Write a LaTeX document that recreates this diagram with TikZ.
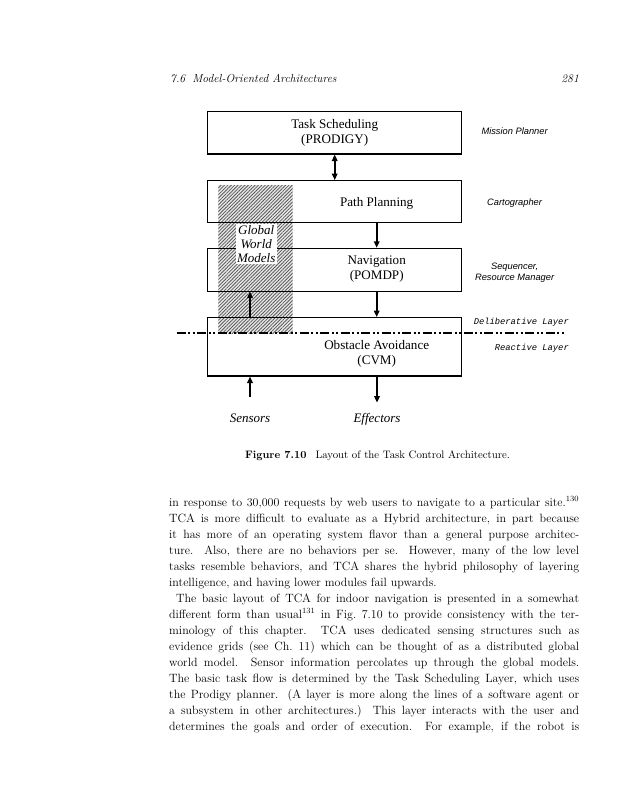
\documentclass[tikz,border=0pt]{standalone}
\usepackage{fontspec}
\newfontfamily\figserif{Liberation Serif}
\newfontfamily\figsans{Liberation Sans}
\newfontfamily\figmono{Liberation Mono}
\usetikzlibrary{arrows.meta,patterns.meta,positioning}

\begin{document}
\begin{tikzpicture}[x=1pt,y=-1pt]
   \tikzstyle{layer}=[draw,line width=1.1pt,minimum width=254pt,inner sep=0pt]
   \tikzstyle{boxtext}=[align=center,font=\figserif\fontsize{13.1}{14.5}\selectfont]
   \tikzstyle{role}=[align=center,font=\figsans\itshape\fontsize{9.3}{10.3}\selectfont]
   \tikzstyle{tier}=[anchor=base east,inner sep=0pt,font=\figmono\itshape\fontsize{8.8}{10}\selectfont]
   \tikzstyle{flow}=[line width=1.6pt,-{Triangle[length=6.5pt,width=5.5pt]}]
   \tikzstyle{io}=[anchor=base,inner sep=0pt,font=\figserif\itshape\fontsize{13}{14}\selectfont]
   \fill [white] (0,0) rectangle (620,800);
   \useasboundingbox (0,0) rectangle (620,800);
   % running head
   \node (head) [anchor=base west,inner sep=0pt,font=\itshape\fontsize{11.6}{13}\selectfont] at (170,82.7) {7.6\hspace{7pt}Model-Oriented Architectures};
   \node (folio) [anchor=base east,inner sep=0pt,font=\itshape\fontsize{11.6}{13}\selectfont] at (579,82.7) {281};
   % shaded world models column
   \fill [preaction={fill=gray!18},pattern={Lines[angle=45,distance=2.4pt,line width=0.8pt]},pattern color=black!65] (218.3,185) rectangle (292.7,333.3);
   % layers
   \node (task) [layer,minimum height=42.3pt] at (334.7,132.8) {};
   \node (path) [layer,minimum height=41.6pt] at (334.7,201.5) {};
   \node (nav) [layer,minimum height=42.7pt] at (334.7,269.7) {};
   \node (obst) [layer,minimum height=58.3pt] at (334.7,346.8) {};
   \node (tasktxt) [boxtext] at (task) {Task Scheduling\\(PRODIGY)};
   \node (pathtxt) [boxtext] at (376.7,203.5) {Path Planning};
   \node (navtxt) [boxtext] at (376.7,269) {Navigation\\(POMDP)};
   \node (obsttxt) [boxtext] at (376.7,354) {Obstacle Avoidance\\(CVM)};
   % roles
   \node (mission) [role] at (514.6,130.7) {Mission Planner};
   \node (carto) [role] at (514.6,203.5) {Cartographer};
   \node (seq) [role] at (514.6,272.7) {Sequencer,\\Resource Manager};
   % deliberative / reactive divide
   \coordinate (divl) at (176.7,333.3);
   \coordinate (divr) at (565,333.3);
   \draw [line width=1.8pt,dash pattern=on 9pt off 2.5pt on 2pt off 2.5pt on 2pt off 2.5pt] (divl) -- (divr);
   \node (delib) [tier] at (569,324) {Deliberative Layer};
   \node (react) [tier] at (569,350) {Reactive Layer};
   % flows
   \draw [line width=1.6pt,{Triangle[length=6.5pt,width=5.5pt]}-{Triangle[length=6.5pt,width=5.5pt]}] (task.south) -- (path.north);
   \draw [flow] (path.south -| pathtxt) -- (nav.north -| pathtxt);
   \draw [flow] (nav.south -| navtxt) -- (obst.north -| navtxt);
   \coordinate (up) at (250,0);
   \draw [flow] (obst.north -| up) -- (nav.south -| up);
   \node (sensors) [io] at (250,422) {Sensors};
   \node (effectors) [io] at (377,422) {Effectors};
   \draw [flow,shorten <=16.5pt] (sensors.north) -- (sensors.north |- obst.south);
   \draw [flow,shorten >=10pt] (obst.south -| effectors.north) -- (effectors.north);
   \node (gwm) [fill=white,inner sep=1.5pt,align=center,font=\figserif\itshape\fontsize{13}{14}\selectfont] at (256.2,244) {Global\\World\\Models};
   % caption
   \node (caption) [anchor=base,inner sep=0pt,font=\fontsize{10.8}{12}\selectfont] at (377.5,458.3) {\textbf{Figure 7.10}\hspace{9pt}Layout of the Task Control Architecture.};
   % body text
   \node (body) [anchor=base west,inner sep=0pt,text width=410pt,align=justify,font=\fontsize{12}{16}\selectfont] at (169,506) {in response to 30,000 requests by web users to navigate to a particular site.\textsuperscript{130}\linebreak
TCA is more difficult to evaluate as a Hybrid architecture, in part because\linebreak
it has more of an operating system flavor than a general purpose architec-\linebreak
ture.  Also, there are no behaviors per se.  However, many of the low level\linebreak
tasks resemble behaviors, and TCA shares the hybrid philosophy of layering\linebreak
intelligence, and having lower modules fail upwards.\par
\hspace*{7pt}The basic layout of TCA for indoor navigation is presented in a somewhat\linebreak
different form than usual\textsuperscript{131} in Fig.~7.10 to provide consistency with the ter-\linebreak
minology of this chapter.  TCA uses dedicated sensing structures such as\linebreak
evidence grids (see Ch.~11) which can be thought of as a distributed global\linebreak
world model.  Sensor information percolates up through the global models.\linebreak
The basic task flow is determined by the Task Scheduling Layer, which uses\linebreak
the Prodigy planner.  (A layer is more along the lines of a software agent or\linebreak
a subsystem in other architectures.)  This layer interacts with the user and\linebreak
determines the goals and order of execution.  For example, if the robot is\parfillskip=0pt\par};
\end{tikzpicture}
\end{document}
